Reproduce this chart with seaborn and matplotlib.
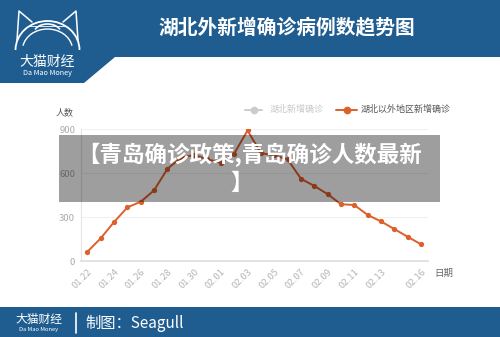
import numpy as np
import pandas as pd
import matplotlib
matplotlib.use("Agg")
import matplotlib.pyplot as plt
from matplotlib.patches import Polygon, Rectangle, Arc
import seaborn as sns

# ---- data ----
dates = ["01.22", "01.23", "01.24", "01.25", "01.26", "01.27", "01.28", "01.29",
         "01.30", "01.31", "02.01", "02.02", "02.03", "02.04", "02.05", "02.06",
         "02.07", "02.08", "02.09", "02.10", "02.11", "02.12", "02.13", "02.14",
         "02.15", "02.16"]
outside_hubei = [65, 157, 268, 368, 406, 484, 631, 705, 725, 695, 672, 734, 892,
                 738, 722, 696, 563, 514, 458, 389, 384, 316, 272, 220, 167, 116]
tick_labels = ["01.22", "01.24", "01.26", "01.28", "01.30", "02.01", "02.03",
               "02.05", "02.07", "02.09", "02.11", "02.13", "02.16"]
y_ticks = [0, 300, 600, 900]

title = "湖北外新增确诊病例数趋势图"
legend_names = ["湖北新增确诊", "湖北以外地区新增确诊"]
banner_line1 = "【青岛确诊政策,青岛确诊人数最新"
banner_line2 = "】"

sns.set_theme(style="white")
plt.rcParams["font.family"] = ["Noto Sans CJK SC", "DejaVu Sans"]

W, H = 500, 337
fig = plt.figure(figsize=(W / 100, H / 100), dpi=100)
fig.patch.set_facecolor("white")

BLUE = "#1f5d90"
ORANGE = "#dd5f2a"

# ---- background layer (pixel coords) ----
bg = fig.add_axes([0, 0, 1, 1], zorder=0)
bg.set_xlim(0, W); bg.set_ylim(H, 0); bg.axis("off")
bg.add_patch(Polygon([(0, 0), (W, 0), (W, 57), (115, 57), (84, 83), (0, 83)],
                     closed=True, fc=BLUE, ec="none"))
bg.add_patch(Rectangle((0, 307), W, 30, fc=BLUE, ec="none"))
bg.text(287, 27, title, color="white", fontsize=14.2, ha="center", va="center",
        fontweight="bold")
# logo
bg.add_patch(Arc((47.5, 50), 64, 58, theta1=180, theta2=360, color="white", lw=1.3))
bg.add_patch(Arc((47.5, 50), 50, 42, theta1=190, theta2=350, color="white", lw=1.0))
bg.add_patch(Arc((47.5, 34), 28, 20, theta1=200, theta2=340, color="white", lw=1.2))
bg.plot([17, 19, 32], [40, 11, 22], color="white", lw=1.1)
bg.plot([78, 76, 63], [40, 11, 22], color="white", lw=1.1)
bg.plot([29, 66], [26, 26], color="white", lw=0.6)
bg.text(47, 62, "大猫财经", color="white", fontsize=10, ha="center", va="center")
bg.text(47, 73, "Da Mao Money", color="white", fontsize=5.2, ha="center", va="center")
# footer
bg.text(39, 319, "大猫财经", color="white", fontsize=8.5, ha="center", va="center")
bg.text(39, 329.5, "Da Mao Money", color="white", fontsize=4.2, ha="center", va="center")
bg.plot([76, 76], [313, 333], color="white", lw=1.2)
bg.text(85, 323, "制图：Seagull", color="white", fontsize=11, ha="left", va="center")
# axis labels / legend
bg.text(65, 113, "人数", color="#555555", fontsize=6.5, ha="center", va="center")
bg.text(444, 273, "日期", color="#666666", fontsize=6.8, ha="center", va="center")
bg.plot([245, 262], [109.7, 109.7], color="#cccccc", lw=1.4)
bg.plot([253.5], [109.7], "o", color="#cccccc", ms=4.5)
bg.text(270, 109.7, legend_names[0], color="#c8c8c8", fontsize=6.5, va="center")
bg.plot([336, 357], [109.7, 109.7], color=ORANGE, lw=1.4)
bg.plot([346.5], [109.7], "o", color=ORANGE, ms=4.5)
bg.text(361, 109.7, legend_names[1], color="#555555", fontsize=6.5, va="center")

# ---- main chart ----
left, right = 80.7 / W, 427.7 / W
bottom, top = (H - 261.3) / H, (H - 129.3) / H
ax = fig.add_axes([left, bottom, right - left, top - bottom], zorder=5)
ax.patch.set_alpha(0)

df = pd.DataFrame({"idx": np.arange(len(dates)), "value": outside_hubei})
sns.lineplot(data=df, x="idx", y="value", ax=ax, color=ORANGE, lw=1.4,
             marker="o", markersize=3.8, markeredgewidth=0)

ax.set_xlim(-0.5, len(dates) - 0.5)
ax.set_ylim(0, 900)
ax.set_yticks(y_ticks)
ax.set_yticklabels([str(v) for v in y_ticks], color="#aaaaaa", fontsize=6.8)
tick_pos = [dates.index(t) for t in tick_labels]
ax.set_xticks(tick_pos)
ax.set_xticklabels(tick_labels, rotation=45, ha="right", rotation_mode="anchor",
                   color="#b5b5b5", fontsize=6.8)
ax.tick_params(axis="both", length=0, pad=4)
ax.set_xlabel(""); ax.set_ylabel("")
for y in [300, 600, 900]:
    ax.axhline(y, color="#f0f0f0", lw=0.8, zorder=0)
for s in ["top", "right"]:
    ax.spines[s].set_visible(False)
ax.spines["left"].set_color("#e4e4e4")
ax.spines["bottom"].set_color("#dddddd")
ax.spines["left"].set_linewidth(0.8)
ax.spines["bottom"].set_linewidth(1.2)
ax.grid(False)

# ---- overlay banner ----
ov = fig.add_axes([0, 0, 1, 1], zorder=10)
ov.set_xlim(0, W); ov.set_ylim(H, 0); ov.axis("off"); ov.patch.set_alpha(0)
ov.add_patch(Rectangle((59, 135), 381, 67, fc="black", alpha=0.38, ec="none"))
ov.text(250, 155, banner_line1, color="white", fontsize=16.2, fontweight="bold",
        ha="center", va="center")
ov.text(242, 183, banner_line2, color="white", fontsize=16.2, fontweight="bold",
        ha="center", va="center")

fig.savefig("out.png", dpi=100)
